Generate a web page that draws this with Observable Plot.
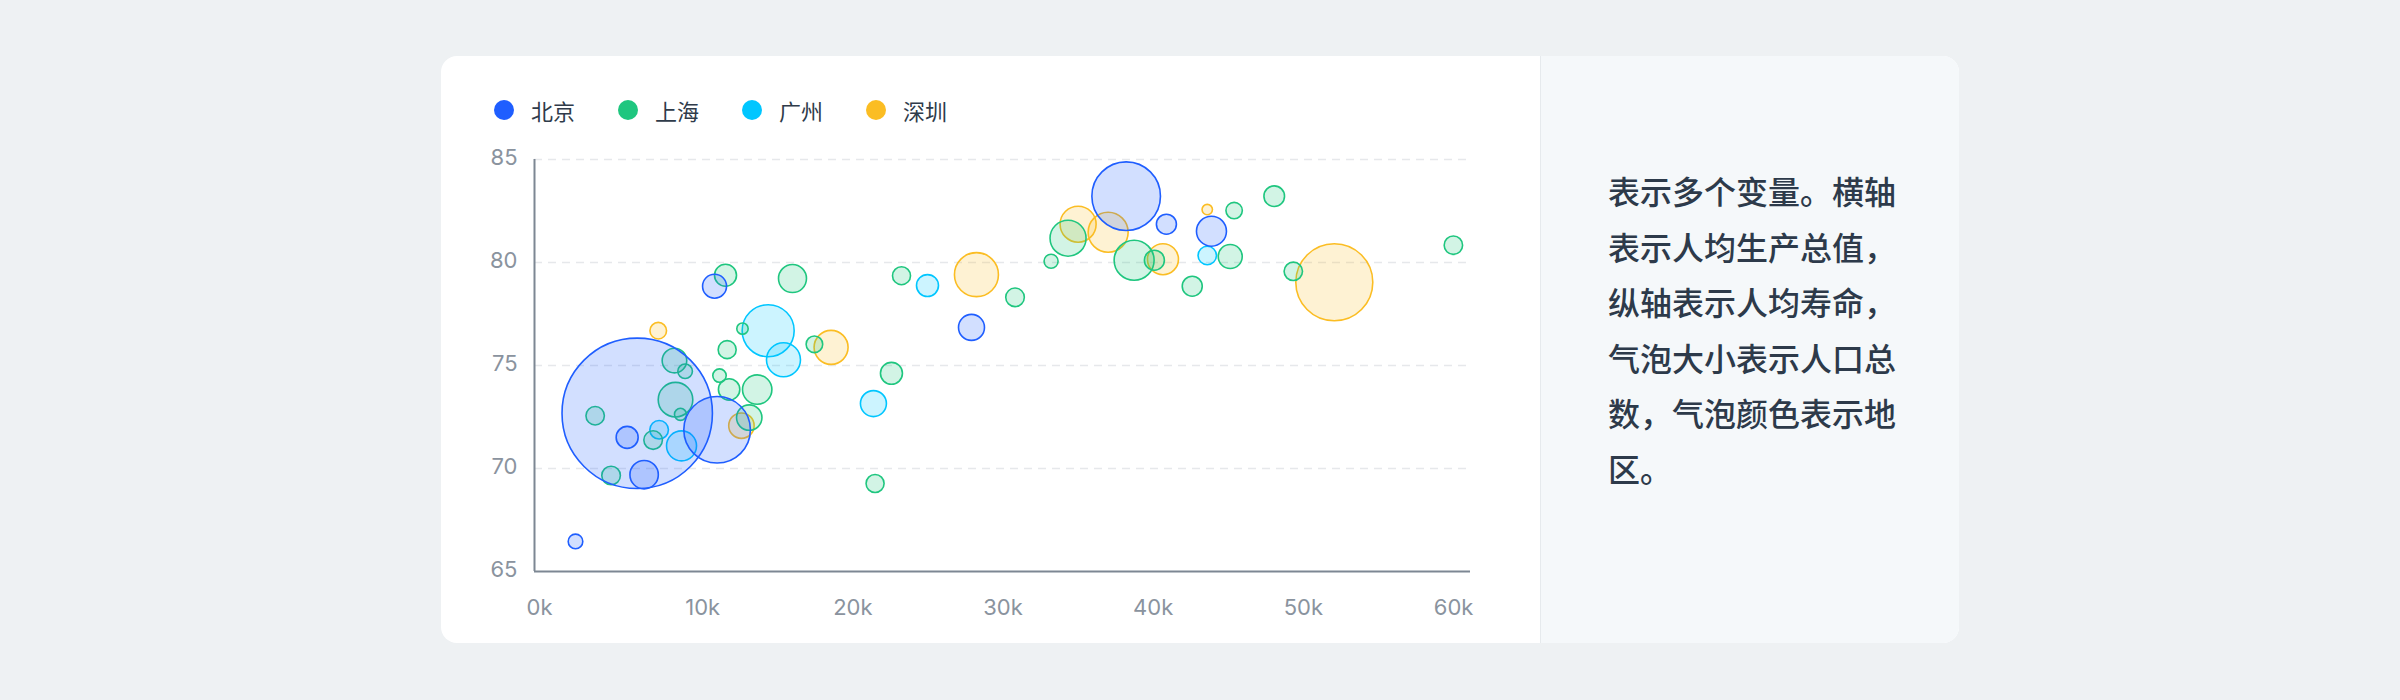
<!DOCTYPE html>
<html>
<head>
<meta charset="utf-8">
<script src="https://cdn.jsdelivr.net/npm/d3@7"></script>
<script src="https://cdn.jsdelivr.net/npm/@observablehq/plot@0.6"></script>
<style>
  html, body { margin: 0; padding: 0; }
  body { width: 2400px; height: 700px; background: #EEF1F3; position: relative; overflow: hidden; font-family: "Noto Sans CJK SC", "Noto Sans", sans-serif; }
  #card { position: absolute; left: 441px; top: 56px; width: 1518px; height: 587px; background: #FFFFFF; border-radius: 16px; overflow: hidden; }
  #side { position: absolute; left: 1099px; top: 0; width: 419px; height: 587px; background: #F5F8FA; border-left: 1px solid #E6EAED; box-sizing: border-box; }
  #desc { position: absolute; left: 67px; top: 107px; font-size: 32px; line-height: 55.6px; font-weight: 500; color: #2D3A4A; white-space: nowrap; }
  #legend { position: absolute; left: 494px; top: 99px; display: flex; align-items: center; height: 21px; }
  .item { display: flex; align-items: center; margin-right: 43px; }
  .sw { width: 20px; height: 20px; border-radius: 50%; margin-right: 17px; }
  .lab { font-size: 22px; color: #2F3B4A; line-height: 22px; }
  #chart { position: absolute; left: 460px; top: 130px; }
</style>
</head>
<body>
<div id="card">
  <div id="side">
    <div id="desc">表示多个变量。横轴<br>表示人均生产总值，<br>纵轴表示人均寿命，<br>气泡大小表示人口总<br>数，气泡颜色表示地<br>区。</div>
  </div>
</div>
<div id="legend"></div>
<div id="chart"></div>
<script>
const cities = ["北京", "上海", "广州", "深圳"];
const cityColors = ["#1F5EFF", "#1FC67F", "#00C6FF", "#FBBD23"];

// 人均生产总值 (USD), 人均寿命 (years), 人口 (million)
const beijingGdp  = [5640, 1530, 4970, 6100, 10960, 27900, 10790, 38200, 40880, 43880];
const beijingLife = [72.68, 66.46, 71.51, 69.70, 71.88, 76.85, 78.85, 83.22, 81.86, 81.52];
const beijingPop  = [1380, 13.0, 29.5, 49.2, 270.6, 41.2, 35.1, 287, 24.4, 54.9];

const shanghaiGdp  = [2840, 3900, 6700, 8520, 8190, 8120, 8830, 11630, 11120, 11760, 13630, 13100, 12650, 17440, 22570, 21480, 11520, 15980, 23240, 30800, 33200, 34330, 38730, 40080, 42600, 45130, 45390, 48060, 49330, 59990];
const shanghaiLife = [72.56, 69.66, 71.38, 72.63, 73.34, 75.24, 74.72, 75.77, 74.51, 73.84, 73.83, 72.47, 76.79, 76.03, 74.62, 69.27, 79.38, 79.22, 79.36, 78.31, 80.06, 81.18, 80.11, 80.11, 78.85, 80.29, 82.52, 83.22, 79.57, 80.84];
const shanghaiPop  = [20.7, 21.1, 21.1, 8.8, 73.0, 36.9, 13.0, 19.8, 11.0, 27.9, 52.7, 39.4, 7.9, 16.8, 29.5, 19.8, 29.5, 47.8, 19.8, 21.1, 12.0, 79.1, 97.6, 24.4, 24.4, 35.1, 16.4, 25.9, 20.7, 20.7];

const guangzhouGdp  = [7100, 8590, 14360, 15380, 21370, 24970, 43600];
const guangzhouLife = [71.88, 71.10, 76.69, 75.28, 73.15, 78.88, 80.34];
const guangzhouPop  = [21.1, 54.9, 165, 70.5, 41.2, 29.5, 20.7];

const shenzhenGdp  = [7040, 12580, 18550, 28230, 35000, 37000, 40650, 43600, 52060];
const shenzhenLife = [76.69, 72.08, 75.88, 79.41, 81.86, 81.47, 80.16, 82.57, 79.04];
const shenzhenPop  = [16.8, 39.4, 70.5, 118, 79.1, 97.6, 58.6, 6.6, 361.7];

const xTicks = [0, 10000, 20000, 30000, 40000, 50000, 60000];
const yTicks = [65, 70, 75, 80, 85];
const gridTicks = [70, 75, 80, 85];
const xDomain = [-1200, 61130];
const yDomain = [65, 85];

function rows(city, gdp, life, pop) {
  return gdp.map((g, i) => ({city, gdp: g, life: life[i], pop: pop[i]}));
}
// drawn from 深圳 up to 北京, so 北京 lies on top
const data = [
  ...rows("深圳", shenzhenGdp, shenzhenLife, shenzhenPop),
  ...rows("广州", guangzhouGdp, guangzhouLife, guangzhouPop),
  ...rows("上海", shanghaiGdp, shanghaiLife, shanghaiPop),
  ...rows("北京", beijingGdp, beijingLife, beijingPop)
];

// legend
const legend = document.getElementById("legend");
cities.forEach((c, i) => {
  const it = document.createElement("div");
  it.className = "item";
  it.innerHTML = `<div class="sw" style="background:${cityColors[i]}"></div><div class="lab">${c}</div>`;
  legend.appendChild(it);
});

const fmt = d => (d / 1000) + "k";
const axisColor = "#7D8793";
const tickColor = "#8A939E";

const chart = Plot.plot({
  width: 1040,
  height: 500,
  marginLeft: 74,
  marginRight: 30,
  marginTop: 29,
  marginBottom: 59,
  style: {background: "transparent", fontFamily: "Inter, 'Noto Sans', sans-serif", overflow: "visible"},
  x: {domain: xDomain, axis: null},
  y: {domain: yDomain, axis: null},
  r: {type: "sqrt", domain: [0, 1380], range: [0, 75.2]},
  color: {domain: cities, range: cityColors},
  marks: [
    Plot.ruleY(gridTicks, {stroke: "#E6E8EB", strokeWidth: 1.5, strokeDasharray: "8,6"}),
    Plot.ruleX([xDomain[0]], {y1: yDomain[0], y2: yDomain[1], stroke: axisColor, strokeWidth: 2}),
    Plot.ruleY([yDomain[0]], {stroke: axisColor, strokeWidth: 2}),
    Plot.dot(data, {x: "gdp", y: "life", r: "pop", fill: "city", stroke: "city", fillOpacity: 0.2, strokeWidth: 1.6, sort: null}),
    Plot.text(yTicks, {x: () => xDomain[0], y: d => d, text: d => String(d), textAnchor: "end", dx: -17, dy: -2, fontSize: 22, fill: tickColor}),
    Plot.text(xTicks.slice(0, 1), {x: d => d, y: () => yDomain[0], text: fmt, textAnchor: "end", dy: 36, fontSize: 22, fill: tickColor}),
    Plot.text(xTicks.slice(1), {x: d => d, y: () => yDomain[0], text: fmt, dy: 36, fontSize: 22, fill: tickColor})
  ]
});
document.getElementById("chart").appendChild(chart);
</script>
</body>
</html>
